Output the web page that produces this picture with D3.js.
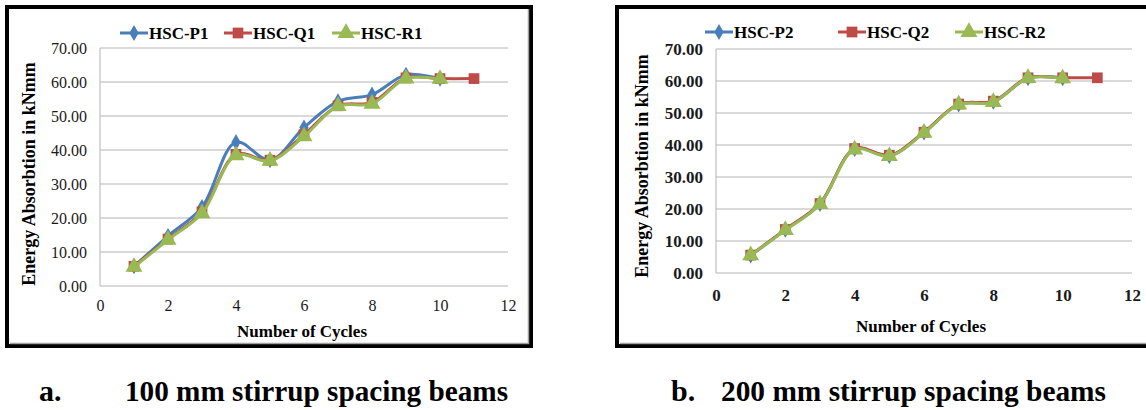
<!DOCTYPE html>
<html>
<head>
<meta charset="utf-8">
<script src="https://cdn.jsdelivr.net/npm/d3@7"></script>
<style>
  body { margin: 0; background: #fff; }
</style>
</head>
<body>
<script>
const width = 1146
const height = 410

// cycles
const cycles = [1, 2, 3, 4, 5, 6, 7, 8, 9, 10, 11]
const yTicks = [0, 10, 20, 30, 40, 50, 60, 70]
const xTicks = [0, 2, 4, 6, 8, 10, 12]

// panel a: 100 mm stirrup spacing
const p1 = [5.8, 14.7, 23.2, 42.3, 37.0, 46.6, 54.3, 56.3, 62.1, 61.0]
const q1 = [5.8, 13.8, 21.8, 38.7, 37.0, 44.5, 53.0, 54.0, 61.2, 61.0, 61.0]
const r1 = [5.6, 13.6, 21.4, 38.4, 36.8, 44.0, 52.9, 53.6, 61.0, 60.9]

// panel b: 200 mm stirrup spacing
const p2 = [5.5, 13.5, 21.6, 38.8, 36.6, 43.9, 52.7, 53.5, 60.9, 60.9]
const q2 = [5.6, 13.6, 21.7, 38.9, 36.8, 44.0, 52.8, 53.7, 61.0, 61.0, 61.0]
const r2 = [5.5, 13.4, 21.5, 38.6, 36.5, 43.8, 52.6, 53.4, 60.9, 60.8]

const names1 = ["HSC-P1", "HSC-Q1", "HSC-R1"]
const names2 = ["HSC-P2", "HSC-Q2", "HSC-R2"]
const captions = ["a.", "100 mm stirrup spacing beams", "b.", "200 mm stirrup spacing beams"]

const colors = ["#4a7ebb", "#be4b48", "#98b954"]
const symbols = [d3.symbolDiamond, d3.symbolSquare, d3.symbolTriangle]
const symSizes = [75, 115, 125]

const svg = d3.select("body").append("svg")
    .attr("width", width)
    .attr("height", height)

function panel(opt) {
  const g = svg.append("g")

  // outer frame
  g.append("rect")
      .attr("x", opt.fx).attr("y", 7)
      .attr("width", opt.fw).attr("height", 339)
      .attr("fill", "#fff").attr("stroke", "#000").attr("stroke-width", 4)
  g.append("path")
      .attr("d", `M${opt.fx + 3},343.5H${opt.fx + opt.fw - 2.5}V9`)
      .attr("fill", "none").attr("stroke", "#a0a0a0").attr("stroke-width", 1.5)

  const x = d3.scaleLinear().domain([0, 12]).range([opt.left, opt.right])
  const y = d3.scaleLinear().domain([0, 70]).range([opt.bottom, opt.top])

  // gridlines
  g.append("g").selectAll("line")
    .data(yTicks)
    .join("line")
      .attr("x1", opt.left).attr("x2", opt.right)
      .attr("y1", d => y(d)).attr("y2", d => y(d))
      .attr("stroke", "#b4b4b4").attr("stroke-width", 1)
  g.append("line")
      .attr("x1", opt.left).attr("x2", opt.left)
      .attr("y1", y(70)).attr("y2", y(0))
      .attr("stroke", "#b4b4b4")

  // axes
  const yAxis = d3.axisLeft(y).tickValues(yTicks).tickFormat(d3.format(".2f")).tickSize(0).tickPadding(13)
  const xAxis = d3.axisBottom(x).tickValues(xTicks).tickSize(0).tickPadding(opt.xPad)
  g.append("g")
      .attr("transform", `translate(${opt.left},0)`)
      .call(yAxis)
      .call(a => a.select(".domain").remove())
      .call(a => a.selectAll("text")
        .attr("font-size", opt.tickSize)
        .attr("font-weight", opt.tickWeight).attr("fill", "#1a1a1a"))
  g.append("g")
      .attr("transform", `translate(0,${opt.bottom})`)
      .call(xAxis)
      .call(a => a.select(".domain").remove())
      .call(a => a.selectAll("text")
        .attr("font-size", opt.tickSize)
        .attr("font-weight", opt.tickWeight).attr("fill", "#1a1a1a"))

  // titles
  g.append("text")
      .attr("x", (opt.left + opt.right) / 2 - opt.xtShift).attr("y", opt.xtY)
      .attr("text-anchor", "middle").attr("font-weight", "bold").attr("font-size", 17)
      .text("Number of Cycles")
  g.append("text")
      .attr("transform", `translate(${opt.ytX},${opt.ytY}) rotate(-90)`)
      .attr("text-anchor", "middle").attr("font-weight", "bold").attr("font-size", 18)
      .attr("dy", "0.35em")
      .text("Energy Absorbtion in kNmm")

  // series
  const line = d3.line()
      .x((d, i) => x(cycles[i]))
      .y(d => y(d))
      .curve(d3.curveCatmullRom.alpha(0.5))

  opt.series.forEach((s, k) => {
    g.append("path")
        .datum(s)
        .attr("d", line)
        .attr("fill", "none")
        .attr("stroke", colors[k])
        .attr("stroke-width", 3)
        .attr("stroke-linejoin", "round")
    g.append("g").selectAll("path")
      .data(s)
      .join("path")
        .attr("transform", (d, i) => `translate(${x(cycles[i])},${y(d)})`)
        .attr("d", d3.symbol(symbols[k], symSizes[k]))
        .attr("fill", colors[k])
  })

  // legend
  const lg = g.append("g").attr("transform", `translate(0,${opt.legY})`)
  opt.names.forEach((n, k) => {
    const lx = opt.legX[k]
    lg.append("line")
        .attr("x1", lx).attr("x2", lx + 28)
        .attr("stroke", colors[k]).attr("stroke-width", 3)
    lg.append("path")
        .attr("transform", `translate(${lx + 14},0)`)
        .attr("d", d3.symbol(symbols[k], symSizes[k]))
        .attr("fill", colors[k])
    lg.append("text")
        .attr("x", lx + 29).attr("dy", "0.35em")
        .attr("font-weight", "bold").attr("font-size", 17)
        .text(n)
  })
}

panel({
  fx: 7, fw: 524,
  left: 100, right: 508, top: 48, bottom: 286,
  series: [p1, q1, r1], names: names1,
  legX: [120, 224, 332], legY: 33,
  tickWeight: "normal", tickSize: 16, xPad: 14,
  xtY: 337, xtShift: 2, ytX: 29, ytY: 174
})

panel({
  fx: 617, fw: 540,
  left: 716, right: 1132, top: 49, bottom: 273,
  series: [p2, q2, r2], names: names2,
  legX: [705, 838, 955], legY: 32,
  tickWeight: "bold", tickSize: 17, xPad: 16,
  xtY: 332, xtShift: 3, ytX: 642, ytY: 166
})

// captions
const cap = svg.append("g").attr("font-weight", "bold").attr("font-size", 30)
cap.append("text").attr("x", 39).attr("y", 401).text(captions[0])
cap.append("text").attr("x", 125).attr("y", 401).attr("textLength", 383).attr("lengthAdjust", "spacingAndGlyphs").text(captions[1])
cap.append("text").attr("x", 671).attr("y", 401).text(captions[2])
cap.append("text").attr("x", 721).attr("y", 401).attr("textLength", 385).attr("lengthAdjust", "spacingAndGlyphs").text(captions[3])

// everything in the Times-like serif
svg.selectAll("text").style("font-family", '"Liberation Serif", "Times New Roman", serif')
</script>
</body>
</html>
